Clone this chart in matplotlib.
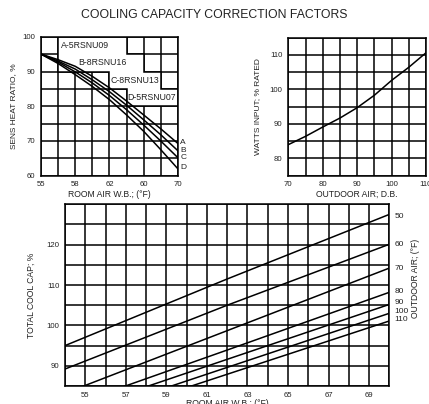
import numpy as np
import matplotlib
matplotlib.use("Agg")
import matplotlib.pyplot as plt
from matplotlib.patches import Polygon

plt.rcParams['font.family'] = ['Liberation Sans', 'DejaVu Sans']

# sensible heat ratio vs room air W.B. (top left)
shr_x = [55.0, 56.875, 58.75, 60.625, 62.5, 64.375, 66.25, 68.125, 70.0]
shr_models = ["A", "B", "C", "D"]
shr_names = ["A-5RSNU09", "B-8RSNU16", "C-8RSNU13", "D-5RSNU07"]
shr_a = [95, 93.4, 91.5, 88.6, 85.3, 81.5, 77.5, 73.5, 69.3]
shr_b = [95, 93.0, 90.7, 87.6, 84.2, 80.3, 76.1, 71.8, 67.2]
shr_c = [95, 92.7, 89.9, 86.7, 83.1, 79.0, 74.6, 70.0, 65.2]
shr_d = [95, 92.3, 89.1, 85.7, 81.9, 77.5, 72.8, 67.5, 62.0]
shr_label_y = [69.6, 67.4, 65.3, 62.3]
shr_tick_labels = ["55", "", "58", "", "62", "", "60", "", "70"]

# watts input vs outdoor air D.B. (top right)
watts_x = [70, 75, 80, 85, 90, 95, 100, 105, 110]
watts_y = [84.0, 86.4, 89.1, 91.7, 94.7, 98.3, 102.6, 106.4, 110.6]

# total cooling capacity vs room air W.B. for outdoor temps (bottom)
cap_x = [54, 62, 70]
outdoor_temps = ["50", "60", "70", "80", "90", "100", "110"]
cap_50 = [95.0, 111.5, 127.5]
cap_60 = [89.2, 105.0, 120.1]
cap_70 = [83.2, 98.7, 114.2]
cap_80 = [79.7, 93.9, 108.2]
cap_90 = [78.0, 91.6, 105.2]
cap_100 = [76.2, 89.6, 103.0]
cap_110 = [74.7, 87.9, 101.1]
cap_label_y = [127.1, 120.1, 114.0, 108.5, 105.8, 103.5, 101.4]

lw = 1.1
fig = plt.figure(figsize=(4.29, 4.04), dpi=100)
fig.text(0.5, 0.962, "COOLING CAPACITY CORRECTION FACTORS", ha="center", va="center",
         fontsize=8.8, color="#222222")


def style(ax):
    ax.grid(True, color="black", linewidth=lw)
    ax.set_axisbelow(True)
    for s in ax.spines.values():
        s.set_linewidth(lw)
    ax.tick_params(length=0, labelsize=5.6, pad=4, colors="#222222")


# --- top left
ax1 = fig.add_axes([0.0956, 0.565, 0.319, 0.344])
ax1.set_xlim(55, 70)
ax1.set_ylim(60, 100)
ax1.set_xticks(np.linspace(55, 70, 9))
ax1.set_xticklabels(shr_tick_labels)
ax1.set_yticks(np.arange(60, 101, 5))
ax1.set_yticklabels(["60", "", "70", "", "80", "", "90", "", "100"])
style(ax1)
cw = 15 / 8.0
cols = [1, 5, 5, 6, 6, 7, 7, 8, 8, 5, 5, 4, 4, 1]
rows = [100, 100, 95, 95, 90, 90, 85, 85, 80, 80, 85, 85, 90, 90]
poly = Polygon([(55 + c * cw, r) for c, r in zip(cols, rows)], closed=True,
               facecolor="white", edgecolor="black", linewidth=lw, zorder=1.5)
ax1.add_patch(poly)
for i, nm in enumerate(shr_names):
    c0 = [1.15, 2.15, 4.05, 5.05][i]
    ax1.text(55 + c0 * cw, 97.5 - 5 * i, nm, fontsize=6.3, va="center", ha="left",
             color="#222222", zorder=3)
for ys, lab, ly in zip([shr_a, shr_b, shr_c, shr_d], shr_models, shr_label_y):
    ax1.plot(shr_x, ys, color="black", linewidth=lw, zorder=4)
    ax1.text(70.25, ly, lab, fontsize=6.0, va="center", ha="left", color="#222222")
ax1.set_ylabel("SENS HEAT RATIO, %", fontsize=6.0, labelpad=4, color="#222222")
ax1.set_xlabel("ROOM AIR W.B.; (°F)", fontsize=6.2, labelpad=1, color="#222222")

# --- top right
ax2 = fig.add_axes([0.672, 0.565, 0.321, 0.342])
ax2.set_xlim(70, 110)
ax2.set_ylim(75, 115)
ax2.set_xticks(np.arange(70, 111, 5))
ax2.set_xticklabels(["70", "", "80", "", "90", "", "100", "", "110"])
ax2.set_yticks(np.arange(75, 116, 5))
ax2.set_yticklabels(["", "80", "", "90", "", "100", "", "110", ""])
style(ax2)
ax2.plot(watts_x, watts_y, color="black", linewidth=lw, zorder=4)
ax2.set_ylabel("WATTS INPUT; % RATED", fontsize=6.0, labelpad=6, color="#222222")
ax2.set_xlabel("OUTDOOR AIR; D.B.", fontsize=6.2, labelpad=1, color="#222222")

# --- bottom
ax3 = fig.add_axes([0.1515, 0.0446, 0.756, 0.4497])
ax3.set_xlim(54, 70)
ax3.set_ylim(85, 130)
ax3.set_xticks(np.arange(54, 71, 1))
ax3.set_xticklabels([str(v) if v % 2 == 1 else "" for v in range(54, 71)])
ax3.set_yticks(np.arange(85, 131, 5))
ax3.set_yticklabels(["", "90", "", "100", "", "110", "", "120", "", ""])
style(ax3)
for ys, lab, ly in zip([cap_50, cap_60, cap_70, cap_80, cap_90, cap_100, cap_110],
                       outdoor_temps, cap_label_y):
    ax3.plot(cap_x, ys, color="black", linewidth=lw, zorder=4)
    ax3.text(70.25, ly, lab, fontsize=6.0, va="center", ha="left", color="#222222")
ax3.set_ylabel("TOTAL COOL CAP; %", fontsize=6.2, labelpad=8, color="#222222")
ax3.set_xlabel("ROOM AIR W.B.; (°F)", fontsize=6.2, labelpad=0, color="#222222")
ax3.text(1.08, 0.594, "OUTDOOR AIR; (°F)", transform=ax3.transAxes, rotation=90,
         fontsize=6.2, va="center", ha="center", color="#222222")

fig.savefig("out.png", dpi=100)
